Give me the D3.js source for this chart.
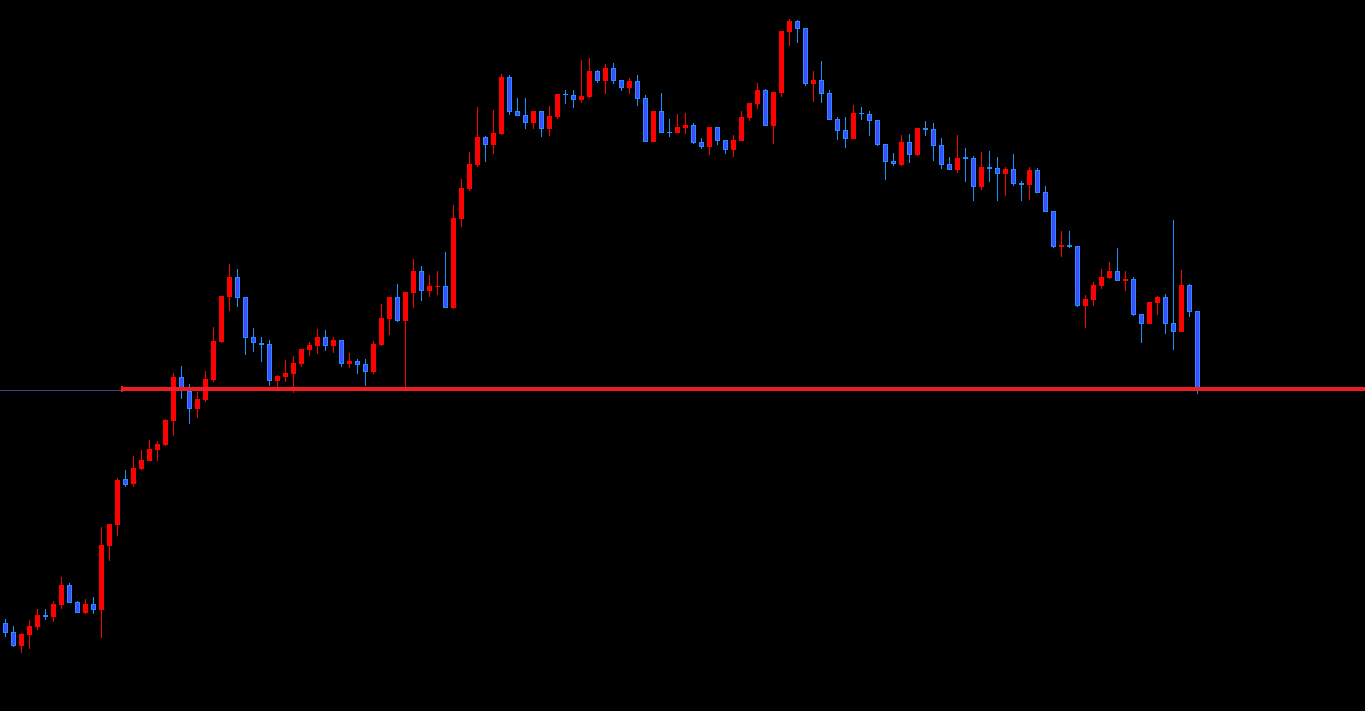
<!DOCTYPE html>
<html>
<head>
<meta charset="utf-8">
<script src="https://cdn.jsdelivr.net/npm/d3@7/dist/d3.min.js"></script>
<style>
html,body{margin:0;padding:0;background:#000;overflow:hidden;}
svg{display:block;}
</style>
</head>
<body>
<svg id="chart" width="1365" height="711"></svg>
<script>
// Price data (arbitrary price units)
const opens = [377,368,354,365,373,385,383,395,415,398,387,396,390,454,475,521,516,531,539,550,555,579,623,609,591,600,620,658,703,723,703,663,657,656,619,623,626,636,650,654,663,654,660,636,639,636,628,655,681,703,679,707,729,709,713,714,692,781,811,835,863,855,866,923,889,885,877,889,871,883,906,905,900,903,929,919,932,920,912,919,902,858,889,868.5,867,872,875,858,853,873,860,850,859,882,896,910,874,907,968,979,972,916,920,907,881,870,861,887,886,880,856,839,835,858,845,872,871,855,836,830,842.5,842,813,833,832,826,831,817,815,830,808,789,753,755,754,694,700,714,722,729,719,721,686,676,697,703,677,668,715,689];
const highs = [381,374,367,380,391,391,399,423,417,399,401,403,473,476,522,530,544,550,560,559,581,627,634,616,608,629,673,704,736,731,703,672,663,660,625,640,644,651,658,671,670,663,660,647,641,641,659,696,703,716,708,741,734,725,729,748,795,821,848,893,864,890,926,925,902,902,889,889,894,906,910,910,940,942,930,936,937,920,922,925,905,889,907,881,886,887,877,862,873,873,860,865,889,897,917,911,908,969,981,980,972,929,939,910,883,883,895,893,889,880,856,847,865,866,872,879,877,862,843,865,852,844,848,849,843,833,846,819,833,832,814,789,769,769,754,705,718,731,738,752,729,723,686,698,704,706,780,730,716,689];
const lows = [363,353,347,351,370,380,378,391,397,387,386,386,362,439,464,513,513,530,539,539,554,564,601,576,582,598,618,657,689,693,645,648,638,614,613,618,607,633,644,646,649,647,633,632,626,614,626,654,665,678,612,692,699,703,705,692,691,773,809,833,838,846,865,885,884,871,871,863,864,881,896,892,897,902,917,906,916,909,906,894,858,858,867,863,867,866,856,851,845,855,846,843,859,879,891,874,856,903,954,957,914,898,897,880,860,852,861,880,864,854,820,834,834,837,844,864,839,831,830,827,818,799,810,818,799,804,814,799,800,807,788,752,743,752,693,672,694,711,721,719,709,684,657,676,685,666,650,668,683,606];
const closes = [367,354,366,374,385,383.5,396,415,397,387,396,390,455,476,520,515,532,540,551,556,580,623,610,591,601,621,659,704,723,702,662,657,655.5,619,624,627,637,651,655,663,654,660,636,639,635,628,656,682,703,679,708,729,709,714,714,692,782,812,836,863,855,867,923,888,884,877,889,871,884,906,904.5,900,904,929,919,932,919,912,919,901,858,889,867,867.5,873,875,857,853,873,859,850,860,883,897,910,874,908,969,979,971,916,920,906,880,869,861,887,885.5,879,855,838,836,858,845,872,870.5,854,835,830,842,841.5,813,833,831.5,826,831,816,815,830,807,788,753,755,753,694,701,715,723,729,719,721,685,676,698,703,676,668,715,688,611];
const levelPrice = 611;      // red horizontal level
const gridPrice = 610;       // thin line under it

const W = 1365, H = 711;
const svg = d3.select('#chart').attr('shape-rendering','crispEdges');
svg.append('rect').attr('width',W).attr('height',H).attr('fill','#000');

const n = opens.length;
const x = d3.scaleLinear().domain([0, n-1]).range([5, 1197]);
const y = d3.scaleLinear().domain([289, 1000]).range([711, 0]);

const data = d3.range(n).map(i => ({i, o:opens[i], h:highs[i], l:lows[i], c:closes[i]}));

// thin line
svg.append('line')
  .attr('x1',0).attr('x2',W)
  .attr('y1',Math.round(y(gridPrice))+0.5).attr('y2',Math.round(y(gridPrice))+0.5)
  .attr('stroke','#483d8b').attr('stroke-width',1);

const RED = '#ff0000', BLUE_EDGE = '#1e90ff', BLUE_FILL = '#3f4cff';

const g = svg.append('g');
const cand = g.selectAll('g.c').data(data).join('g').attr('class','c');

cand.append('rect')
  .attr('x', d => Math.round(x(d.i)))
  .attr('width', 1)
  .attr('y', d => Math.round(y(d.h)))
  .attr('height', d => Math.max(1, Math.round(y(d.l)) - Math.round(y(d.h))))
  .attr('fill', d => d.c > d.o ? RED : BLUE_EDGE);

cand.each(function(d){
  const sel = d3.select(this);
  const cx = Math.round(x(d.i));
  const top = Math.round(y(Math.max(d.o,d.c)));
  const bot = Math.round(y(Math.min(d.o,d.c)));
  const h = Math.max(1, bot - top);
  if (d.c > d.o) {
    sel.append('rect').attr('x',cx-2).attr('y',top).attr('width',5).attr('height',h).attr('fill',RED);
  } else {
    sel.append('rect').attr('x',cx-2).attr('y',top).attr('width',5).attr('height',h).attr('fill',BLUE_EDGE);
    if (h > 2) sel.append('rect').attr('x',cx-1).attr('y',top+1).attr('width',3).attr('height',h-2).attr('fill',BLUE_FILL);
  }
});

// red level line
const ly = y(levelPrice);
svg.append('rect')
  .attr('x',121).attr('y',Math.round(ly)-2).attr('width',W-121).attr('height',4)
  .attr('fill','#ee1c24');
svg.append('rect')
  .attr('x',121).attr('y',Math.round(ly)-3).attr('width',2).attr('height',6)
  .attr('fill','#ee1c24');
</script>
</body>
</html>
